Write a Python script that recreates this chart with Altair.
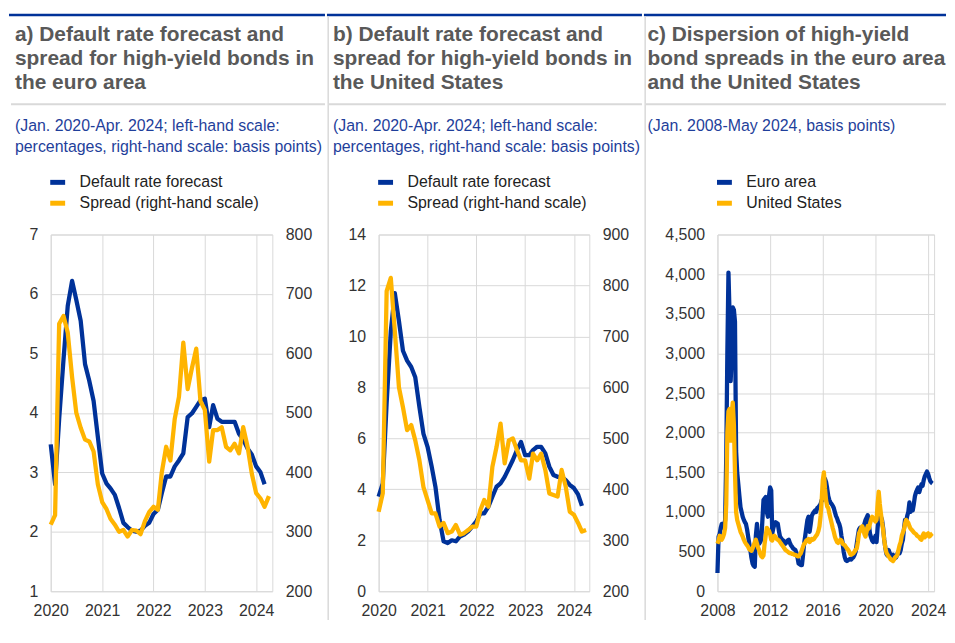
import altair as alt
import pandas as pd

BLUE = "#003299"
ORANGE = "#FFB400"
GRID = "#d9d9d9"
TITLE_GREY = "#595959"
SUB_BLUE = "#1f3f9b"
FONT = "Liberation Sans"

# ---------------- data ----------------
ab_start = "2020-01-01"
c_start = "2008-01-01"

# a) euro area, Jan 2020 - Mar 2024 (percentages)
a_default_rate = [
    3.47, 2.80, 3.90, 4.90, 5.80, 6.22, 5.90, 5.55, 4.82, 4.54, 4.20, 3.60,
    2.98, 2.81, 2.73, 2.62, 2.40, 2.15, 2.08, 2.02, 2.00, 2.02, 2.10, 2.15,
    2.30, 2.37, 2.65, 2.93, 2.93, 3.10, 3.20, 3.32, 3.93, 3.99, 4.10, 4.21,
    4.24, 3.76, 4.13, 3.90, 3.85, 3.85, 3.85, 3.85, 3.65, 3.55, 3.40, 3.30,
    3.10, 3.00, 2.80,
]
# a) euro area spread, Jan 2020 - Apr 2024 (basis points)
a_spread = [
    312, 328, 650, 663, 635, 560, 500, 475, 455, 452, 435, 380,
    350, 338, 322, 312, 300, 303, 292, 303, 302, 296, 318, 333,
    342, 337, 400, 443, 420, 490, 527, 618, 540, 575, 608, 520,
    505, 418, 471, 471, 476, 443, 437, 448, 432, 476, 443, 398,
    365, 356, 342, 360,
]
# b) United States, Jan 2020 - Mar 2024 (percentages)
b_default_rate = [
    3.71, 4.23, 7.40, 10.20, 11.70, 10.60, 9.44, 9.05, 8.80, 8.40, 7.23, 6.19,
    5.67, 4.89, 4.10, 2.80, 1.96, 1.89, 2.00, 1.96, 2.15, 2.22, 2.35, 2.54,
    2.74, 3.06, 3.06, 3.32, 3.71, 4.10, 4.23, 4.49, 4.82, 5.15, 5.54, 5.86,
    5.34, 5.34, 5.54, 5.67, 5.67, 5.41, 4.89, 4.56, 4.49, 4.49, 4.36, 4.17,
    4.05, 3.80, 3.35,
]
# b) United States spread, Jan 2020 - Apr 2024 (basis points)
b_spread = [
    356, 392, 789, 815, 711, 600, 561, 516, 526, 496, 457, 405,
    379, 353, 353, 327, 334, 314, 317, 330, 311, 314, 320, 327,
    327, 360, 379, 366, 444, 483, 529, 451, 496, 500, 477, 457,
    457, 421, 470, 457, 470, 438, 392, 389, 386, 438, 405, 356,
    350, 334, 317, 320,
]
# c) dispersion of high-yield spreads, Jan 2008 - May 2024 (basis points)
c_euro_area = [
    230, 690, 720, 800, 850, 830, 800, 900, 1700, 3000, 4020, 3500,
    2650, 3000, 3580, 3550, 3400, 1770, 1500, 1350, 1200, 1060, 1000, 940,
    900, 870, 850, 780, 690, 600, 520, 420, 350, 320, 310, 700,
    850, 650, 600, 620, 650, 900, 1150, 1170, 1190, 1000, 940, 1200,
    1310, 1270, 730, 800, 850, 870, 860, 850, 760, 690, 670, 650,
    640, 620, 600, 620, 640, 650, 610, 580, 560, 540, 530, 520,
    480, 420, 350, 340, 330, 330, 450, 600, 700, 800, 900, 940,
    750, 850, 950, 980, 1000, 1020, 1000, 1050, 1060, 1080, 1100, 1150,
    1150, 1300, 1420, 1380, 1300, 1200, 1150, 1120, 1100, 1080, 1050, 1000,
    950, 920, 880, 850, 800, 700, 620, 500, 430, 390, 380, 390,
    400, 410, 400, 420, 430, 460, 500, 600, 700, 780, 800, 790,
    780, 800, 850, 900, 930, 960, 850, 730, 680, 640, 620, 650,
    700, 620, 800, 950, 960, 940, 900, 800, 650, 550, 470, 450,
    520, 480, 460, 450, 460, 440, 420, 430, 470, 500, 480, 520,
    600, 650, 780, 900, 880, 950, 1000, 1120, 1000, 1050, 1020, 1100,
    1200, 1250, 1280, 1310, 1250, 1300, 1350, 1330, 1400, 1450, 1480, 1510,
    1480, 1430, 1390, 1370, 1360,
]
c_united_states = [
    600, 640, 700, 680, 650, 680, 720, 800, 1100, 2000, 2270, 2300,
    1900, 2250, 2380, 2100, 1500, 1000, 900, 850, 800, 750, 720, 690,
    650, 620, 600, 580, 560, 530, 520, 510, 540, 580, 620, 650,
    600, 550, 520, 470, 440, 430, 450, 600, 700, 800, 780, 760,
    720, 650, 640, 690, 700, 680, 660, 650, 640, 620, 600, 580,
    560, 540, 520, 510, 500, 490, 480, 480, 470, 470, 460, 460,
    450, 440, 440, 460, 480, 520, 560, 600, 610, 640, 650, 660,
    620, 640, 660, 650, 660, 680, 700, 720, 760, 820, 950, 1150,
    1400, 1500, 1300, 1150, 1070, 1050, 980, 920, 860, 800, 750, 690,
    650, 620, 610, 630, 650, 640, 600, 590, 580, 560, 540, 525,
    500, 470, 460, 470, 480, 500, 525, 540, 620, 730, 760, 800,
    820, 780, 720, 690, 750, 820, 790, 850, 900, 940, 920, 900,
    880, 900, 1100, 1255, 1100, 980, 870, 775, 650, 550, 485, 460,
    440, 420, 400, 390, 380, 400, 430, 440, 460, 520, 580, 620,
    700, 740, 775, 850, 900, 880, 860, 820, 790, 775, 760, 740,
    730, 720, 700, 690, 680, 660, 650, 700, 730, 680, 700, 720,
    730, 690, 700, 720, 730,
]

ab_series = ["Default rate forecast", "Spread (right-hand scale)"]
c_series = ["Euro area", "United States"]

a_title = ["a) Default rate forecast and", "spread for high-yield bonds in", "the euro area"]
b_title = ["b) Default rate forecast and", "spread for high-yield bonds in", "the United States"]
c_title = ["c) Dispersion of high-yield", "bond spreads in the euro area", "and the United States"]
ab_subtitle = ["(Jan. 2020-Apr. 2024; left-hand scale:", "percentages, right-hand scale: basis points)"]
c_subtitle = ["(Jan. 2008-May 2024, basis points)"]

a_left_ticks = [1, 2, 3, 4, 5, 6, 7]
a_right_ticks = [200, 300, 400, 500, 600, 700, 800]
b_left_ticks = [0, 2, 4, 6, 8, 10, 12, 14]
b_right_ticks = [200, 300, 400, 500, 600, 700, 800, 900]
c_ticks = [0, 500, 1000, 1500, 2000, 2500, 3000, 3500, 4000, 4500]
ab_years = [2020, 2021, 2022, 2023, 2024]
c_years = [2008, 2012, 2016, 2020, 2024]

ab_xdomain = [(2020, 1, 1), (2024, 4, 25)]
c_xdomain = [(2008, 1, 1), (2024, 6, 15)]

H = 359


def monthly(start, values, name):
    dates = pd.date_range(start, periods=len(values), freq="MS").strftime("%Y-%m-%d")
    return pd.DataFrame({"date": list(dates), "value": values, "series": name})


def dt(t):
    return alt.DateTime(year=t[0], month=t[1], date=t[2], utc=True)


def xenc(xdomain, years):
    return alt.X(
        "date:T",
        scale=alt.Scale(type="utc", domain=[dt(xdomain[0]), dt(xdomain[1])]),
        axis=alt.Axis(
            values=[dt((y, 1, 1)) for y in years],
            format="%Y", formatType="utc", title=None, grid=True,
            labelFlush=False, labelOverlap=False,
        ),
    )


def line(df, names, ydomain, yticks, orient, grid, fmt, xdomain, years):
    return alt.Chart(df).mark_line(strokeWidth=4.3, strokeJoin="round").encode(
        x=xenc(xdomain, years),
        y=alt.Y(
            "value:Q",
            scale=alt.Scale(domain=ydomain, nice=False, zero=False),
            axis=alt.Axis(orient=orient, values=yticks, grid=grid, format=fmt,
                          title=None, labelFlush=False, labelOverlap=False),
        ),
        color=alt.Color(
            "series:N",
            scale=alt.Scale(domain=names, range=[BLUE, ORANGE]),
            legend=alt.Legend(title=None, orient="none", legendX=-3, legendY=-62.5,
                              direction="vertical"),
        ),
    )


def band(base, x, x2, y, y2, color):
    return base.mark_rect(color=color, strokeWidth=0).encode(
        x=alt.value(x), x2=alt.value(x2), y=alt.value(y), y2=alt.value(y2))


def decorations(lx, rx, sep, title, sub, tx):
    base = alt.Chart(pd.DataFrame({"k": [0]}))
    out = [
        band(base, lx, rx, -222.25, -219.75, BLUE),
        band(base, lx + 2, rx, -132, -130, GRID),
        base.mark_text(text=title, align="left", baseline="alphabetic", font=FONT,
                       fontSize=21, fontWeight="bold", color=TITLE_GREY,
                       lineHeight=24.3).encode(x=alt.value(tx), y=alt.value(-195)),
        base.mark_text(text=sub, align="left", baseline="alphabetic", font=FONT,
                       fontSize=16, color=SUB_BLUE,
                       lineHeight=21.5).encode(x=alt.value(tx), y=alt.value(-104.5)),
    ]
    if sep:
        out.append(band(base, lx + 0.5, lx + 2, -219.75, 388, GRID))
    return out


# panel a
pa = alt.layer(
    line(monthly(ab_start, a_default_rate, ab_series[0]), ab_series, [1, 7], a_left_ticks,
         "left", True, "d", ab_xdomain, ab_years),
    line(monthly(ab_start, a_spread, ab_series[1]), ab_series, [200, 800], a_right_ticks,
         "right", False, "d", ab_xdomain, ab_years),
    *decorations(-42, 276, False, a_title, ab_subtitle, -36),
).resolve_scale(y="independent").properties(width=223, height=H)

# panel b
pb = alt.layer(
    line(monthly(ab_start, b_default_rate, ab_series[0]), ab_series, [0, 14], b_left_ticks,
         "left", True, "d", ab_xdomain, ab_years),
    line(monthly(ab_start, b_spread, ab_series[1]), ab_series, [200, 900], b_right_ticks,
         "right", False, "d", ab_xdomain, ab_years),
    *decorations(-52, 265, True, b_title, ab_subtitle, -46),
).resolve_scale(y="independent").properties(width=212, height=H)

# panel c
pc = alt.layer(
    line(monthly(c_start, c_euro_area, c_series[0]), c_series, [0, 4500], c_ticks,
         "left", True, ",d", c_xdomain, c_years),
    line(monthly(c_start, c_united_states, c_series[1]), c_series, [0, 4500], c_ticks,
         "left", True, ",d", c_xdomain, c_years),
    *decorations(-74, 230, True, c_title, c_subtitle, -70.5),
).properties(width=218, height=H)

chart = (
    alt.hconcat(pa, pb, pc, spacing=0)
    .resolve_scale(color="independent")
    .properties(padding={"left": 0, "top": 3, "right": 0, "bottom": 0}, background="white")
    .configure_view(stroke=GRID, strokeWidth=1)
    .configure_axis(labelFont=FONT, labelFontSize=16, labelColor="#333333", domain=False,
                    ticks=False, gridColor=GRID, gridWidth=1, labelPadding=13)
    .configure_axisX(labelPadding=11)
    .configure_legend(symbolType="stroke", symbolStrokeWidth=5, symbolSize=225,
                      labelFont=FONT, labelFontSize=16, labelColor="#222222",
                      labelOffset=12, rowPadding=1, padding=0, labelLimit=0)
)

chart.save("out.html", embed_options={"renderer": "svg", "actions": False})
